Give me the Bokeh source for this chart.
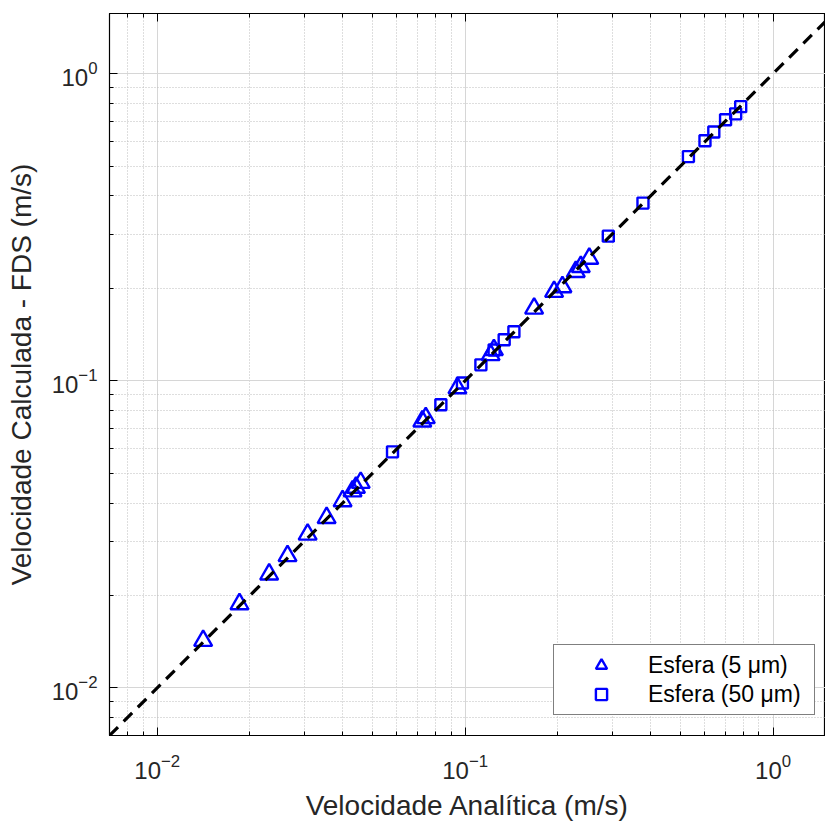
from bokeh.plotting import figure
from bokeh.models import FixedTicker, LogAxis, Legend, LegendItem, Range1d, LogTickFormatter
from bokeh.embed import file_html
from bokeh.resources import INLINE

# --- data ---
vel_analitica_5um = [0.0141, 0.0185, 0.0231, 0.0265, 0.0308, 0.0355, 0.0400, 0.0431,
                     0.0442, 0.0458, 0.0726, 0.0745, 0.0944, 0.1210, 0.1240, 0.1675,
                     0.1945, 0.2070, 0.2287, 0.2375, 0.2530]
vel_fds_5um = [0.01425, 0.01875, 0.02344, 0.0269, 0.0316, 0.0358, 0.0406, 0.0437,
               0.0449, 0.0466, 0.0738, 0.0757, 0.0947, 0.1214, 0.1260, 0.1720,
               0.1950, 0.2020, 0.2265, 0.2350, 0.2500]

vel_analitica_50um = [0.0581, 0.0834, 0.0980, 0.1125, 0.1242, 0.1339, 0.1440, 0.2917,
                      0.3780, 0.5310, 0.6010, 0.6420, 0.7010, 0.7560, 0.7850]
vel_fds_50um = [0.0587, 0.0836, 0.0984, 0.1127, 0.1260, 0.1360, 0.1445, 0.2958,
                0.3790, 0.5370, 0.6050, 0.6460, 0.7080, 0.7400, 0.7810]

ref_line = [0.007, 1.6]
major_ticks = [0.01, 0.1, 1.0]
x_limits = (0.007, 1.48)
y_limits = (0.007, 1.57)

label_5 = "Esfera (5 μm)"
label_50 = "Esfera (50 μm)"
x_title = "Velocidade Analítica (m/s)"
y_title = "Velocidade Calculada - FDS (m/s)"

FONT = "Liberation Sans"
BLUE = "#0000ff"

minor = [m * d for d in (0.001, 0.01, 0.1, 1.0) for m in range(2, 10)]
ticker = FixedTicker(ticks=major_ticks, minor_ticks=minor)

p = figure(x_axis_type="log", y_axis_type="log",
           x_range=Range1d(*x_limits), y_range=Range1d(*y_limits),
           frame_width=716, frame_height=722,
           min_border_left=109, min_border_right=0, min_border_top=13, min_border_bottom=93,
           output_backend="svg", toolbar_location=None,
           background_fill_color="white", border_fill_color="white")

p.outline_line_color = "black"
p.outline_line_width = 1.2

for ax in (p.xaxis[0], p.yaxis[0]):
    ax.ticker = ticker
    ax.formatter = LogTickFormatter()
    ax.major_tick_in = 8
    ax.major_tick_out = 0
    ax.minor_tick_in = 4
    ax.minor_tick_out = 0
    ax.axis_line_color = "black"
    ax.major_tick_line_color = "black"
    ax.minor_tick_line_color = "black"
    ax.major_label_text_font = FONT
    ax.major_label_text_font_size = "24px"
    ax.major_label_text_color = "#262626"
    ax.axis_label_text_font = FONT
    ax.axis_label_text_font_size = "28px"
    ax.axis_label_text_font_style = "normal"
    ax.axis_label_text_color = "#262626"

p.xaxis.axis_label = x_title
p.yaxis.axis_label = y_title
p.xaxis.major_label_standoff = 18
p.yaxis.major_label_standoff = 12
p.xaxis.axis_label_standoff = 8
p.yaxis.axis_label_standoff = 12

top = LogAxis(ticker=ticker, major_tick_in=8, major_tick_out=0, minor_tick_in=4,
              minor_tick_out=0, major_label_text_color=None,
              major_label_standoff=0, axis_line_color="black")
p.add_layout(top, "above")

for g in (p.xgrid[0], p.ygrid[0]):
    g.ticker = ticker
    g.grid_line_color = "#d6d6d6"
    g.grid_line_width = 1
    g.minor_grid_line_color = "#bdbdbd"
    g.minor_grid_line_dash = "1 2"
    g.minor_grid_line_width = 1

r5 = p.scatter(vel_analitica_5um, vel_fds_5um, marker="triangle", size=18,
               fill_color=None, line_color=BLUE, line_width=2.4)
r50 = p.scatter(vel_analitica_50um, vel_fds_50um, marker="square", size=11,
                fill_color=None, line_color=BLUE, line_width=2.4)

p.line(ref_line, ref_line, line_color="black", line_width=3.2, line_dash="12 8")

legend = Legend(items=[LegendItem(label=label_5, renderers=[r5]),
                       LegendItem(label=label_50, renderers=[r50])],
                location=(444, 20))
legend.label_text_font = FONT
legend.label_text_font_size = "23px"
legend.label_text_color = "black"
legend.border_line_color = "black"
legend.border_line_width = 1
legend.background_fill_color = "white"
legend.background_fill_alpha = 1
legend.padding = 6
legend.spacing = 1
legend.margin = 0
legend.glyph_width = 82
legend.glyph_height = 28
legend.label_height = 28
legend.label_standoff = 6
legend.label_width = 160
p.add_layout(legend, "center")

open("out.html", "w").write(file_html(p, INLINE))
